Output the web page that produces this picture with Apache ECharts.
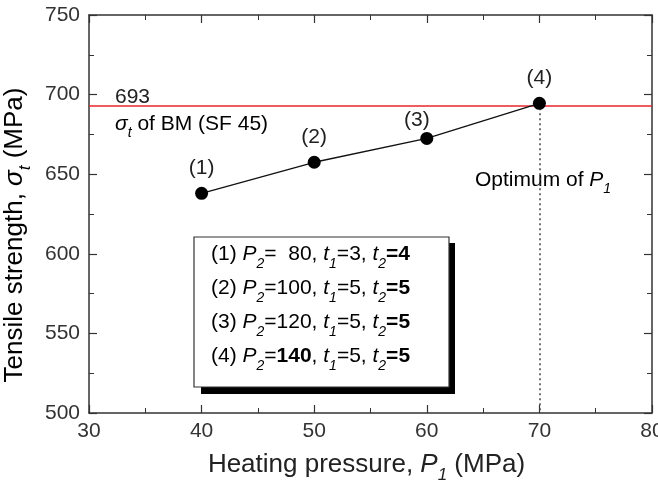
<!DOCTYPE html>
<html>
<head>
<meta charset="utf-8">
<script src="https://cdn.jsdelivr.net/npm/echarts@6/dist/echarts.min.js"></script>
<style>
  html, body { margin: 0; padding: 0; background: #fff; }
  #chart { width: 658px; height: 486px; }
</style>
</head>
<body>
<div id="chart"></div>
<script>
// heating pressure P1 (MPa) and tensile strength (MPa)
var pressures = [40, 50, 60, 70];
var strengths = [638, 657.5, 672.5, 694.5];
var pointNames = ['(1)', '(2)', '(3)', '(4)'];
var baseMetal = 693;          // sigma_t of BM (SF 45)
var optimumP1 = 70;
var xTicks = [30, 40, 50, 60, 70, 80];
var yTicks = [500, 550, 600, 650, 700, 750];
// legend box rows: P2, t1, t2 and which parts are bold
var boxP2 = ['  80', '100', '120', '140'];
var boxT1 = ['3', '5', '5', '5'];
var boxT2 = ['4', '5', '5', '5'];
var boxP2Bold = [false, false, false, true];

var FONT = 'Liberation Sans, Arial, sans-serif';
var axisColor = '#333';

// n: normal, i: italic, b: bold, s: italic subscript (dropped by subOffset px)
function subStyles(size, lineH, subOffset) {
	return {
		n: { fontSize: size, fontFamily: FONT, color: '#222', lineHeight: lineH },
		i: { fontSize: size, fontFamily: FONT, color: '#222', fontStyle: 'italic', lineHeight: lineH },
		b: { fontSize: size, fontFamily: FONT, color: '#111', fontWeight: 'bold', lineHeight: lineH },
		s: { fontSize: Math.round(size * 0.65), fontFamily: FONT, color: '#222', fontStyle: 'italic',
			lineHeight: lineH - 2 * subOffset, verticalAlign: 'bottom' }
	};
}

var boxLines = [];
for (var k = 0; k < pointNames.length; k++) {
	var p2 = boxP2Bold[k] ? '{b|' + boxP2[k] + '}' : '{n|' + boxP2[k] + '}';
	boxLines.push('{n|' + pointNames[k] + ' }{i|P}{s|2}{n|=}' + p2 +
		'{n|, }{i|t}{s|1}{n|=' + boxT1[k] + ', }{i|t}{s|2}{b|=' + boxT2[k] + '}');
}

function axisBase(pos, show) {
	return {
		type: 'value',
		position: pos,
		axisLine: { show: true, onZero: false, lineStyle: { color: axisColor, width: 1.5 } },
		axisTick: { show: true, inside: true, length: 8, lineStyle: { color: axisColor, width: 1.2 } },
		minorTick: { show: true, splitNumber: 2, length: 5, lineStyle: { color: axisColor, width: 1 } },
		splitLine: { show: false },
		axisLabel: { show: show, fontSize: 21, fontFamily: FONT, color: '#333' }
	};
}

var chart = echarts.init(document.getElementById('chart'));

var xBottom = axisBase('bottom', true);
xBottom.min = xTicks[0]; xBottom.max = xTicks[xTicks.length - 1]; xBottom.interval = 10;
xBottom.axisLabel.margin = 8;
xBottom.name = '{n|Heating pressure, }{i|P}{s|1}{n| (MPa)}';
xBottom.nameLocation = 'middle';
xBottom.nameGap = 33;
xBottom.nameTextStyle = { rich: subStyles(26, 38, 9), padding: [0, 8, 0, 0] };

var xTop = axisBase('top', false);
xTop.min = xTicks[0]; xTop.max = xTicks[xTicks.length - 1]; xTop.interval = 10;

var yLeft = axisBase('left', true);
yLeft.min = yTicks[0]; yLeft.max = yTicks[yTicks.length - 1]; yLeft.interval = 50;
yLeft.axisLabel.margin = 9;

var yRight = axisBase('right', false);
yRight.min = yTicks[0]; yRight.max = yTicks[yTicks.length - 1]; yRight.interval = 50;

var option = {
	animation: false,
	backgroundColor: '#fff',
	grid: { left: 89, right: 6, top: 15, bottom: 73, containLabel: false, outerBoundsMode: 'none' },
	xAxis: [xBottom, xTop],
	yAxis: [yLeft, yRight],
	series: [{
		type: 'line',
		data: pressures.map(function(p, i) {
			var item = { value: [p, strengths[i]], name: pointNames[i] };
			if (i == 2) item.label = { offset: [-10, 7] };
			return item;
		}),
		symbol: 'circle',
		symbolSize: 13,
		itemStyle: { color: '#000' },
		lineStyle: { color: '#111', width: 1.3 },
		label: {
			show: true, position: 'top', distance: 8,
			formatter: '{b}', fontSize: 21, fontFamily: FONT, color: '#222'
		},
		z: 5,
		markLine: {
			silent: true,
			symbol: 'none',
			label: { show: false },
			data: [
				{ yAxis: baseMetal, lineStyle: { color: '#e8262a', width: 1.5, type: 'solid' } },
				[
					{ coord: [optimumP1, strengths[3]], lineStyle: { color: '#444', width: 1.5, type: [2, 3] } },
					{ coord: [optimumP1, yTicks[0]] }
				]
			]
		}
	}],
	graphic: [
		{ type: 'text', x: 15, y: 235, rotation: Math.PI / 2, style: {
			text: '{n|Tensile strength, }{i|σ}{s|t}{n| (MPa)}', rich: subStyles(26, 38, 9),
			align: 'center', verticalAlign: 'middle'
		} },
		{ type: 'text', left: 115, top: 87, style: { text: String(baseMetal), fontSize: 21, fontFamily: FONT, fill: '#222' } },
		{ type: 'text', x: 115, y: 108, style: {
			text: '{i|σ}{s|t}{n| of BM (SF 45)}', rich: subStyles(21, 32, 8)
		} },
		{ type: 'text', x: 475, y: 164, style: {
			text: '{n|Optimum of }{i|P}{s|1}', rich: subStyles(21, 32, 8)
		} },
		{ type: 'rect', shape: { x: 201, y: 243, width: 254, height: 151 }, style: { fill: '#000' }, z: 10 },
		{ type: 'rect', shape: { x: 194, y: 237, width: 255, height: 150 },
			style: { fill: '#fff', stroke: '#333', lineWidth: 1.2 }, z: 11 },
		{ type: 'text', x: 211, y: 237, z: 12, style: {
			text: boxLines.join('\n'), rich: subStyles(21, 34, 8)
		} }
	]
};

chart.setOption(option);
</script>
</body>
</html>
